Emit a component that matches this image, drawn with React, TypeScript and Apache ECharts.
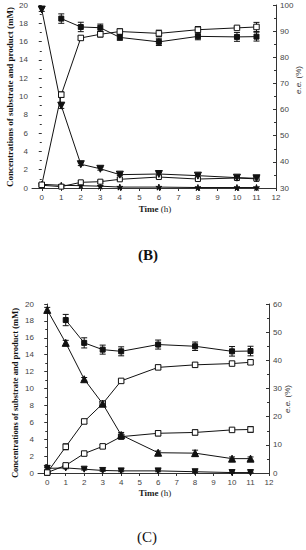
import React, { useEffect, useRef } from "react";
import * as echarts from "echarts";

// ---------- data ----------
const xTicks = [0, 1, 2, 3, 4, 5, 6, 7, 8, 9, 10, 11, 12];
const tAll = [0, 1, 2, 3, 4, 6, 8, 10, 11];
const tNo0 = [1, 2, 3, 4, 6, 8, 10, 11];

// Panel B
const bEeFilled = [94.8, 91.6, 91.3, 87.6, 85.9, 88.0, 87.8, 87.9]; // right axis, t from 1
const bEeFilledErr = [1.8, 1.8, 1.4, 1.1, 1.4, 1.3, 1.7, 1.7];
const bProdOpen = [0.35, 10.2, 16.4, 16.8, 17.1, 16.9, 17.3, 17.5, 17.6];
const bProdOpenErr = [0.1, 0.3, 0.2, 0.3, 0.3, 0.35, 0.35, 0.15, 0.5];
const bSubDown = [19.5, 9.0, 2.6, 2.1, 1.46, 1.53, 1.35, 1.13, 1.06];
const bSubDownErr = [0.2, 0.3, 0.15, 0.15, 0.1, 0.15, 0.15, 0.2, 0.2];
const bLowOpen = [0.3, 0.15, 0.62, 0.69, 0.95, 1.2, 0.98, 1.09, 1.0];
const bLowOpenErr = [0.1, 0.1, 0.15, 0.15, 0.15, 0.15, 0.15, 0.1, 0.1];
const bStar = [0.4, 0.3, 0.25, 0.2, 0.1, 0.1, 0.05, 0.05, 0.05];

// Panel C
const cSubUp = [19.3, 15.4, 11.1, 8.2, 4.5, 2.4, 2.35, 1.7, 1.7];
const cSubUpErr = [0.3, 0.3, 0.2, 0.3, 0.3, 0.2, 0.35, 0.2, 0.2];
const cEeFilled = [54.3, 46.2, 43.8, 43.2, 45.6, 45.0, 43.2, 43.3]; // right axis, t from 1
const cEeFilledErr = [2.0, 1.8, 1.6, 1.6, 1.6, 1.5, 1.7, 1.7];
const cUpOpen = [0.05, 3.1, 6.1, 8.2, 10.9, 12.5, 12.8, 12.95, 13.1];
const cUpOpenErr = [0.05, 0.35, 0.25, 0.2, 0.2, 0.25, 0.25, 0.2, 0.25];
const cLowOpen = [0.05, 0.9, 2.3, 3.15, 4.3, 4.7, 4.8, 5.1, 5.15];
const cLowOpenErr = [0.05, 0.2, 0.2, 0.2, 0.2, 0.3, 0.3, 0.15, 0.35];
const cDown = [0.55, 0.6, 0.45, 0.3, 0.25, 0.25, 0.15, 0.05, 0.05];
const cDownErr = [0.1, 0.1, 0.1, 0.1, 0.1, 0.1, 0.1, 0.05, 0.05];

const yTitle = "Concentrations of substrate and product (mM)";

const INK = "#111";
const STAR =
  "path://M50,0 L61,35 L98,35 L68,57 L79,91 L50,70 L21,91 L32,57 L2,35 L39,35 Z";

function pairs(xs: number[], ys: number[]) {
  return xs.map((x, i) => [x, ys[i]]);
}
function triples(xs: number[], ys: number[], es: number[]) {
  return xs.map((x, i) => [x, ys[i], es[i]]);
}

function errRender(params: any, api: any) {
  const x = api.value(0);
  const y = api.value(1);
  const e = api.value(2);
  const hi = api.coord([x, y + e]);
  const lo = api.coord([x, y - e]);
  const w = 3;
  const st = { stroke: INK, lineWidth: 1 };
  return {
    type: "group",
    children: [
      { type: "line", shape: { x1: hi[0], y1: hi[1], x2: lo[0], y2: lo[1] }, style: st },
      { type: "line", shape: { x1: hi[0] - w, y1: hi[1], x2: hi[0] + w, y2: hi[1] }, style: st },
      { type: "line", shape: { x1: lo[0] - w, y1: lo[1], x2: lo[0] + w, y2: lo[1] }, style: st },
    ],
  };
}

function errSeries(g: number, yIdx: number, xs: number[], ys: number[], es: number[]) {
  return {
    type: "custom",
    xAxisIndex: g,
    yAxisIndex: yIdx,
    renderItem: errRender,
    data: triples(xs, ys, es),
    encode: { x: 0, y: 1 },
    z: 1,
    silent: true,
  };
}

function lineSeries(
  g: number,
  yIdx: number,
  xs: number[],
  ys: number[],
  symbol: string,
  size: number,
  filled: boolean,
  rotate = 0
) {
  return {
    type: "line",
    xAxisIndex: g,
    yAxisIndex: yIdx,
    data: pairs(xs, ys),
    symbol,
    symbolSize: size,
    symbolRotate: rotate,
    showAllSymbol: true,
    lineStyle: { color: INK, width: 1 },
    itemStyle: {
      color: filled ? INK : "#fff",
      borderColor: INK,
      borderWidth: 1,
    },
    z: 3,
    silent: true,
  };
}

const tickLabel = {
  fontSize: 8,
  color: "#444",
  fontFamily: "Liberation Sans",
};

function xAxisDef(g: number) {
  return {
    type: "value",
    gridIndex: g,
    min: -0.5,
    max: 12,
    axisLine: { show: true, onZero: false, lineStyle: { color: "#333", width: 1 } },
    axisTick: { show: true, customValues: xTicks, length: 3, lineStyle: { color: "#333" } },
    axisLabel: { ...tickLabel, customValues: xTicks, margin: 5 },
    splitLine: { show: false },
  };
}

function yAxisDef(
  g: number,
  pos: "left" | "right",
  min: number,
  max: number,
  interval: number,
  showLine: boolean,
  inside: boolean
) {
  return {
    type: "value",
    gridIndex: g,
    position: pos,
    min,
    max,
    interval,
    axisLine: { show: showLine, lineStyle: { color: "#333", width: 1 } },
    axisTick: { show: true, inside, length: 3, lineStyle: { color: "#333" } },
    minorTick: { show: true, splitNumber: 2, length: 2, lineStyle: { color: "#333" } },
    axisLabel: { ...tickLabel, margin: 4 },
    splitLine: { show: false },
  };
}

function vText(x: number, y: number, text: string, size: number) {
  return {
    type: "text",
    x,
    y,
    rotation: Math.PI / 2,
    style: {
      text,
      fontSize: size,
      fontWeight: "bold",
      fontFamily: "Liberation Serif",
      fill: "#111",
      align: "center",
      verticalAlign: "middle",
    },
  };
}

function eeText(x: number, y: number) {
  return {
    type: "text",
    x,
    y,
    rotation: Math.PI / 2,
    style: {
      text: "{i|e.e.} (%)",
      fontSize: 8,
      fontFamily: "Liberation Sans",
      fill: "#333",
      align: "center",
      verticalAlign: "middle",
      rich: {
        i: { fontStyle: "italic", fontSize: 8, fontFamily: "Liberation Sans", fill: "#333" },
      },
    },
  };
}

function timeText(x: number, y: number) {
  return {
    type: "text",
    x,
    y,
    style: {
      text: "{b|Time} (h)",
      fontSize: 9,
      fontFamily: "Liberation Serif",
      fill: "#222",
      align: "center",
      verticalAlign: "middle",
      rich: {
        b: { fontWeight: "bold", fontSize: 9, fontFamily: "Liberation Serif", fill: "#222" },
      },
    },
  };
}

function panelText(x: number, y: number, text: string, bold: boolean) {
  return {
    type: "text",
    x,
    y,
    style: {
      text,
      fontSize: 15,
      fontWeight: bold ? "bold" : "normal",
      fontFamily: "Liberation Serif",
      fill: "#111",
      align: "center",
      verticalAlign: "middle",
    },
  };
}

export default function App() {
  const ref = useRef<HTMLDivElement>(null);
  useEffect(() => {
    if (!ref.current) return;
    const chart = echarts.init(ref.current, undefined, { renderer: "svg" });
    chart.setOption({
      animation: false,
      backgroundColor: "#fff",
      grid: [
        { left: 32, right: 30, top: 5, height: 183 },
        { left: 38, right: 37, top: 304, height: 169 },
      ],
      xAxis: [xAxisDef(0), xAxisDef(1)],
      yAxis: [
        yAxisDef(0, "left", 0, 20, 2, false, false),
        yAxisDef(0, "right", 30, 100, 10, true, true),
        yAxisDef(1, "left", 0, 20, 2, true, false),
        yAxisDef(1, "right", 0, 60, 10, true, true),
      ],
      series: [
        // Panel B
        errSeries(0, 1, tNo0, bEeFilled, bEeFilledErr),
        errSeries(0, 0, tAll, bProdOpen, bProdOpenErr),
        errSeries(0, 0, tAll, bSubDown, bSubDownErr),
        errSeries(0, 0, tAll, bLowOpen, bLowOpenErr),
        lineSeries(0, 0, tAll, bStar, STAR, 6, true),
        lineSeries(0, 0, tAll, bLowOpen, "rect", 5, false),
        lineSeries(0, 0, tAll, bProdOpen, "rect", 5.5, false),
        lineSeries(0, 0, tAll, bSubDown, "triangle", 7, true, 180),
        lineSeries(0, 1, tNo0, bEeFilled, "rect", 5, true),
        // Panel C
        errSeries(1, 2, tAll, cSubUp, cSubUpErr),
        errSeries(1, 3, tNo0, cEeFilled, cEeFilledErr),
        errSeries(1, 2, tAll, cUpOpen, cUpOpenErr),
        errSeries(1, 2, tAll, cLowOpen, cLowOpenErr),
        errSeries(1, 2, tAll, cDown, cDownErr),
        lineSeries(1, 2, tAll, cDown, "triangle", 6, true, 180),
        lineSeries(1, 2, tAll, cLowOpen, "rect", 5.5, false),
        lineSeries(1, 2, tAll, cUpOpen, "rect", 5.5, false),
        lineSeries(1, 2, tAll, cSubUp, "triangle", 7, true),
        lineSeries(1, 3, tNo0, cEeFilled, "rect", 5, true),
      ],
      graphic: [
        vText(10, 97, yTitle, 9),
        eeText(298, 80),
        timeText(155, 209),
        panelText(148, 255, "(B)", true),
        vText(15, 393, yTitle, 8.5),
        eeText(287, 399),
        timeText(155, 493),
        panelText(147, 537, "(C)", false),
      ],
    });
    return () => chart.dispose();
  }, []);
  return (
    <div
      ref={ref}
      style={{ position: "absolute", left: 0, top: 0, width: 306, height: 550, background: "#fff" }}
    />
  );
}
